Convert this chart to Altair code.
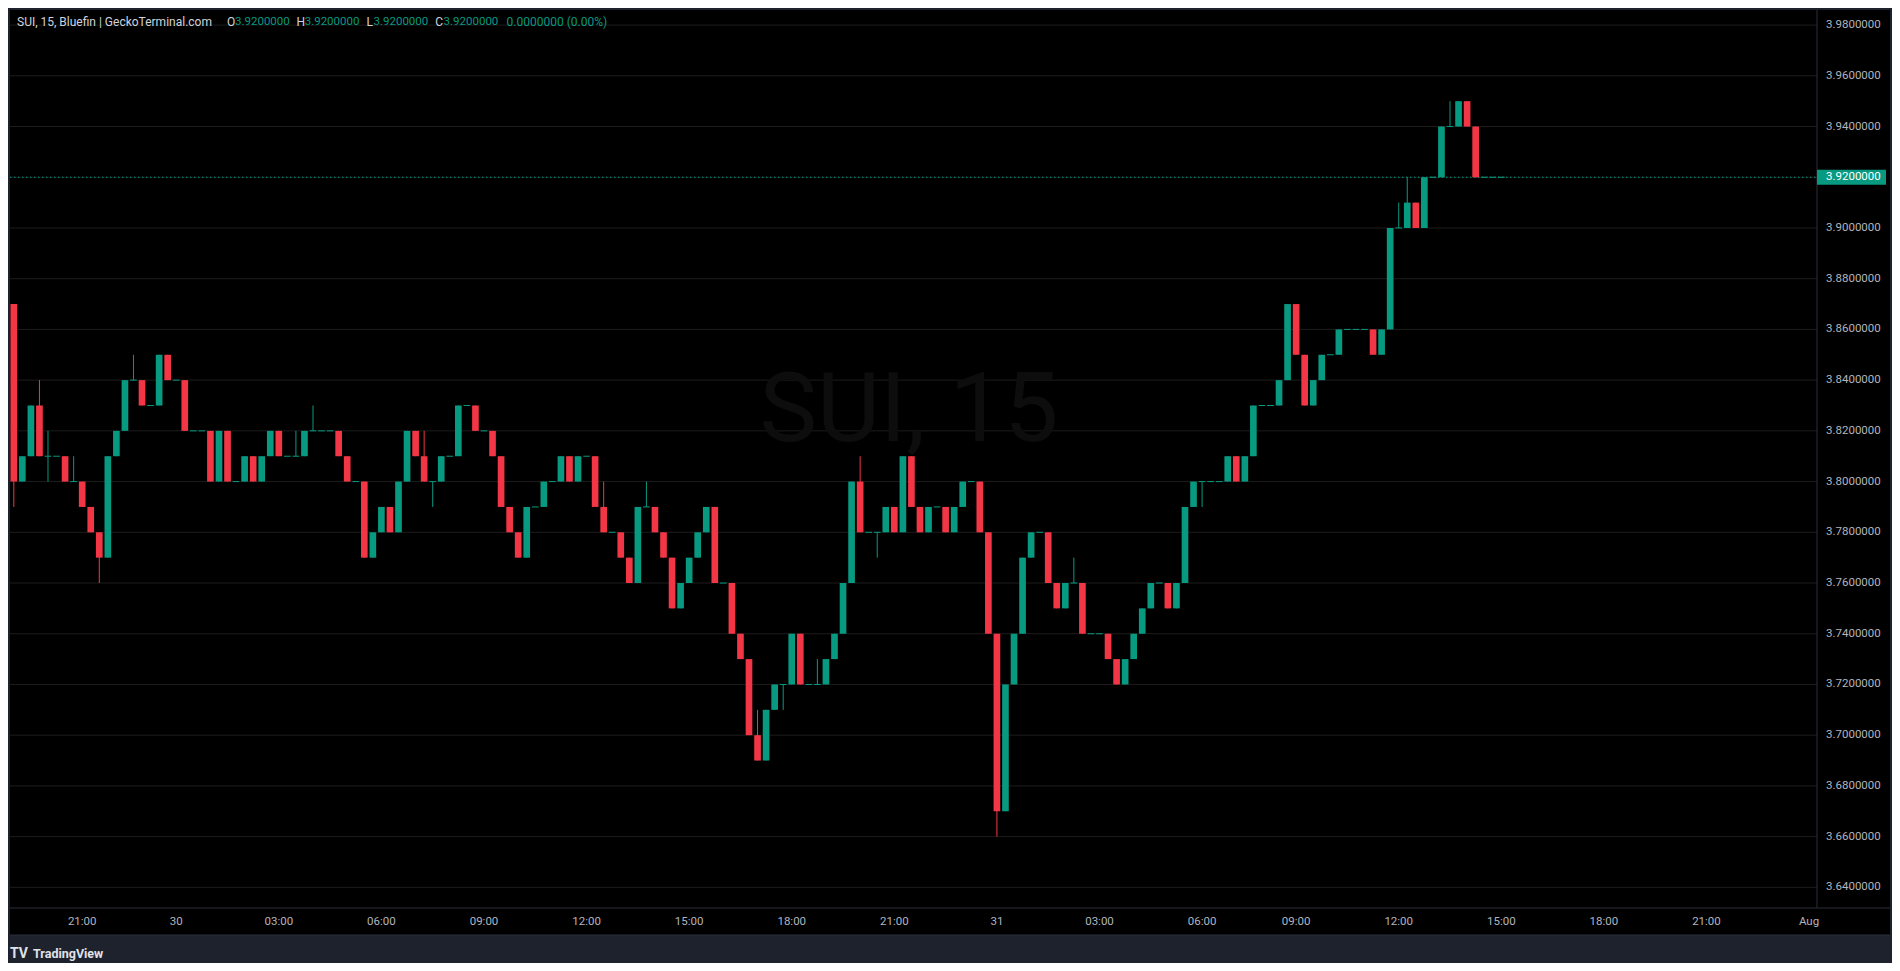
import altair as alt
import pandas as pd

# ---------------- data ----------------
opens = [
    3.87, 3.80, 3.81, 3.83, 3.81, 3.81, 3.81, 3.80, 3.80, 3.79,
    3.78, 3.77, 3.81, 3.82, 3.84, 3.84, 3.83, 3.83, 3.85, 3.84,
    3.84, 3.82, 3.82, 3.82, 3.80, 3.82, 3.80, 3.80, 3.81, 3.80,
    3.81, 3.82, 3.81, 3.81, 3.81, 3.82, 3.82, 3.82, 3.82, 3.81,
    3.80, 3.80, 3.77, 3.78, 3.79, 3.78, 3.80, 3.82, 3.81, 3.80,
    3.80, 3.81, 3.81, 3.83, 3.83, 3.82, 3.82, 3.81, 3.79, 3.78,
    3.77, 3.79, 3.79, 3.80, 3.80, 3.81, 3.80, 3.81, 3.81, 3.79,
    3.78, 3.78, 3.77, 3.76, 3.79, 3.79, 3.78, 3.77, 3.75, 3.76,
    3.77, 3.78, 3.79, 3.76, 3.76, 3.74, 3.73, 3.70, 3.69, 3.71,
    3.72, 3.72, 3.74, 3.72, 3.72, 3.72, 3.73, 3.74, 3.76, 3.80,
    3.78, 3.78, 3.78, 3.79, 3.78, 3.81, 3.79, 3.78, 3.79, 3.79,
    3.78, 3.79, 3.80, 3.80, 3.78, 3.74, 3.67, 3.72, 3.74, 3.77,
    3.78, 3.78, 3.76, 3.75, 3.76, 3.76, 3.74, 3.74, 3.74, 3.73,
    3.72, 3.73, 3.74, 3.75, 3.76, 3.76, 3.75, 3.76, 3.79, 3.80,
    3.80, 3.80, 3.80, 3.81, 3.80, 3.81, 3.83, 3.83, 3.83, 3.84,
    3.87, 3.85, 3.83, 3.84, 3.85, 3.85, 3.86, 3.86, 3.86, 3.86,
    3.85, 3.86, 3.90, 3.90, 3.91, 3.90, 3.92, 3.92, 3.94, 3.94,
    3.95, 3.94, 3.92, 3.92, 3.92,
]
highs = [
    3.87, 3.81, 3.83, 3.84, 3.82, 3.81, 3.81, 3.81, 3.80, 3.79,
    3.78, 3.81, 3.82, 3.84, 3.85, 3.84, 3.83, 3.85, 3.85, 3.84,
    3.84, 3.82, 3.82, 3.82, 3.82, 3.82, 3.80, 3.81, 3.81, 3.81,
    3.82, 3.82, 3.81, 3.82, 3.82, 3.83, 3.82, 3.82, 3.82, 3.81,
    3.80, 3.80, 3.78, 3.79, 3.79, 3.80, 3.82, 3.82, 3.82, 3.80,
    3.81, 3.81, 3.83, 3.83, 3.83, 3.82, 3.82, 3.81, 3.79, 3.78,
    3.79, 3.79, 3.80, 3.80, 3.81, 3.81, 3.81, 3.81, 3.81, 3.80,
    3.78, 3.78, 3.77, 3.79, 3.80, 3.79, 3.78, 3.77, 3.76, 3.77,
    3.78, 3.79, 3.79, 3.76, 3.76, 3.74, 3.73, 3.71, 3.71, 3.72,
    3.72, 3.74, 3.74, 3.72, 3.73, 3.73, 3.74, 3.76, 3.80, 3.81,
    3.78, 3.78, 3.79, 3.79, 3.81, 3.81, 3.79, 3.79, 3.79, 3.79,
    3.79, 3.80, 3.80, 3.80, 3.78, 3.74, 3.72, 3.74, 3.77, 3.78,
    3.78, 3.78, 3.76, 3.76, 3.77, 3.76, 3.74, 3.74, 3.74, 3.73,
    3.73, 3.74, 3.75, 3.76, 3.76, 3.76, 3.76, 3.79, 3.80, 3.80,
    3.80, 3.80, 3.81, 3.81, 3.81, 3.83, 3.83, 3.83, 3.84, 3.87,
    3.87, 3.85, 3.84, 3.85, 3.85, 3.86, 3.86, 3.86, 3.86, 3.86,
    3.86, 3.90, 3.91, 3.92, 3.91, 3.92, 3.92, 3.94, 3.95, 3.95,
    3.95, 3.94, 3.92, 3.92, 3.92,
]
lows = [
    3.79, 3.80, 3.81, 3.81, 3.80, 3.81, 3.80, 3.80, 3.79, 3.78,
    3.76, 3.77, 3.81, 3.82, 3.84, 3.83, 3.83, 3.83, 3.84, 3.84,
    3.82, 3.82, 3.82, 3.80, 3.80, 3.80, 3.80, 3.80, 3.80, 3.80,
    3.81, 3.81, 3.81, 3.81, 3.81, 3.82, 3.82, 3.82, 3.81, 3.80,
    3.80, 3.77, 3.77, 3.78, 3.78, 3.78, 3.80, 3.81, 3.80, 3.79,
    3.80, 3.81, 3.81, 3.83, 3.82, 3.82, 3.81, 3.79, 3.78, 3.77,
    3.77, 3.79, 3.79, 3.80, 3.80, 3.80, 3.80, 3.81, 3.79, 3.78,
    3.78, 3.77, 3.76, 3.76, 3.79, 3.78, 3.77, 3.75, 3.75, 3.76,
    3.77, 3.78, 3.76, 3.76, 3.74, 3.73, 3.70, 3.69, 3.69, 3.71,
    3.71, 3.72, 3.72, 3.72, 3.72, 3.72, 3.73, 3.74, 3.76, 3.78,
    3.78, 3.77, 3.78, 3.78, 3.78, 3.79, 3.78, 3.78, 3.79, 3.78,
    3.78, 3.79, 3.80, 3.78, 3.74, 3.66, 3.67, 3.72, 3.74, 3.77,
    3.78, 3.76, 3.75, 3.75, 3.76, 3.74, 3.74, 3.74, 3.73, 3.72,
    3.72, 3.73, 3.74, 3.75, 3.76, 3.75, 3.75, 3.76, 3.79, 3.79,
    3.80, 3.80, 3.80, 3.80, 3.80, 3.81, 3.83, 3.83, 3.83, 3.84,
    3.85, 3.83, 3.83, 3.84, 3.85, 3.85, 3.86, 3.86, 3.86, 3.85,
    3.85, 3.86, 3.90, 3.90, 3.90, 3.90, 3.92, 3.92, 3.94, 3.94,
    3.94, 3.92, 3.92, 3.92, 3.92,
]
closes = [
    3.80, 3.81, 3.83, 3.81, 3.81, 3.81, 3.80, 3.80, 3.79, 3.78,
    3.77, 3.81, 3.82, 3.84, 3.84, 3.83, 3.83, 3.85, 3.84, 3.84,
    3.82, 3.82, 3.82, 3.80, 3.82, 3.80, 3.80, 3.81, 3.80, 3.81,
    3.82, 3.81, 3.81, 3.81, 3.82, 3.82, 3.82, 3.82, 3.81, 3.80,
    3.80, 3.77, 3.78, 3.79, 3.78, 3.80, 3.82, 3.81, 3.80, 3.80,
    3.81, 3.81, 3.83, 3.83, 3.82, 3.82, 3.81, 3.79, 3.78, 3.77,
    3.79, 3.79, 3.80, 3.80, 3.81, 3.80, 3.81, 3.81, 3.79, 3.78,
    3.78, 3.77, 3.76, 3.79, 3.79, 3.78, 3.77, 3.75, 3.76, 3.77,
    3.78, 3.79, 3.76, 3.76, 3.74, 3.73, 3.70, 3.69, 3.71, 3.72,
    3.72, 3.74, 3.72, 3.72, 3.72, 3.73, 3.74, 3.76, 3.80, 3.78,
    3.78, 3.78, 3.79, 3.78, 3.81, 3.79, 3.78, 3.79, 3.79, 3.78,
    3.79, 3.80, 3.80, 3.78, 3.74, 3.67, 3.72, 3.74, 3.77, 3.78,
    3.78, 3.76, 3.75, 3.76, 3.76, 3.74, 3.74, 3.74, 3.73, 3.72,
    3.73, 3.74, 3.75, 3.76, 3.76, 3.75, 3.76, 3.79, 3.80, 3.80,
    3.80, 3.80, 3.81, 3.80, 3.81, 3.83, 3.83, 3.83, 3.84, 3.87,
    3.85, 3.83, 3.84, 3.85, 3.85, 3.86, 3.86, 3.86, 3.86, 3.85,
    3.86, 3.90, 3.90, 3.91, 3.90, 3.92, 3.92, 3.94, 3.94, 3.95,
    3.94, 3.92, 3.92, 3.92, 3.92,
]

tick_index = [8, 19, 31, 43, 55, 67, 79, 91, 103, 115, 127, 139, 150, 162, 174, 186, 198, 210]
tick_labels = ["21:00", "30", "03:00", "06:00", "09:00", "12:00", "15:00", "18:00", "21:00",
               "31", "03:00", "06:00", "09:00", "12:00", "15:00", "18:00", "21:00", "Aug"]
price_ticks = [3.64, 3.66, 3.68, 3.70, 3.72, 3.74, 3.76, 3.78, 3.80, 3.82,
               3.84, 3.86, 3.88, 3.90, 3.92, 3.94, 3.96, 3.98]
symbol_text = "SUI, 15, Bluefin | GeckoTerminal.com"
watermark_text = "SUI, 15"
brand_text = "TradingView"

# ---------------- style ----------------
UP = "#089981"
DOWN = "#f23645"
FRAME = "#1e222d"
SEP = "#2a2e39"
GRID = "#1c1c1c"
AXIS_TXT = "#b2b5be"
HEAD_TXT = "#d1d4dc"
FONT = "Roboto"

W, H = 1807, 898
xs = alt.Scale(domain=[-0.4445, 210.93], nice=False, zero=False)
ys = alt.Scale(domain=[3.631853, 3.985954], nice=False, zero=False)

df = pd.DataFrame({"i": list(range(len(opens))), "open": opens, "high": highs,
                   "low": lows, "close": closes})
df["dir"] = ["up" if c >= o else "down" for o, c in zip(opens, closes)]
color = alt.Color("dir:N", scale=alt.Scale(domain=["up", "down"], range=[UP, DOWN]), legend=None)

base = alt.Chart(df)

wicks = base.transform_filter("datum.high > datum.low").mark_rule(strokeWidth=1).encode(
    x=alt.X("i:Q", scale=xs, axis=None),
    y=alt.Y("low:Q", scale=ys, axis=None),
    y2="high:Q",
    color=color,
)
bodies = base.transform_filter("datum.open != datum.close").transform_calculate(
    x0="datum.i - 0.39", x1="datum.i + 0.39"
).mark_rect().encode(
    x=alt.X("x0:Q", scale=xs, axis=None), x2="x1:Q",
    y=alt.Y("open:Q", scale=ys, axis=None), y2="close:Q",
    color=color,
)
dojis = base.transform_filter("datum.open == datum.close").transform_calculate(
    x0="datum.i - 0.39", x1="datum.i + 0.39"
).mark_rule(strokeWidth=1).encode(
    x=alt.X("x0:Q", scale=xs, axis=None), x2="x1:Q",
    y=alt.Y("close:Q", scale=ys, axis=None),
    color=color,
)

pt = pd.DataFrame({"p": price_ticks})
grid = alt.Chart(pt).mark_rule(color=GRID, strokeWidth=1).encode(
    x=alt.value(0), x2=alt.value(W), y=alt.Y("p:Q", scale=ys, axis=None)
)
ylabels = alt.Chart(pt).transform_filter("abs(datum.p - 3.92) > 0.001").mark_text(
    align="left", baseline="middle", fontSize=11.5, font=FONT, color=AXIS_TXT
).encode(
    x=alt.value(W + 9), y=alt.Y("p:Q", scale=ys, axis=None), text=alt.Text("p:Q", format=".7f")
)

tk = pd.DataFrame({"i": tick_index, "lab": tick_labels})
xlabels = alt.Chart(tk).mark_text(
    align="center", baseline="middle", fontSize=11.5, font=FONT, color=AXIS_TXT
).encode(x=alt.X("i:Q", scale=xs, axis=None), y=alt.value(H + 14), text="lab:N")

last = pd.DataFrame({"p": [closes[-1]], "t": [f"{closes[-1]:.7f}"]})
price_line = alt.Chart(last).mark_rule(color=UP, strokeWidth=1, strokeDash=[1.5, 2.5]).encode(
    x=alt.value(0), x2=alt.value(W), y=alt.Y("p:Q", scale=ys, axis=None)
)
price_box = alt.Chart(last).mark_rule(color=UP, strokeWidth=15, strokeCap="butt").encode(
    x=alt.value(W), x2=alt.value(W + 69), y=alt.Y("p:Q", scale=ys, axis=None)
)
price_txt = alt.Chart(last).mark_text(
    align="left", baseline="middle", fontSize=11.5, font=FONT, color="#ffffff"
).encode(x=alt.value(W + 9), y=alt.Y("p:Q", scale=ys, axis=None), text="t:N")


def text_layer(text, x, y, color, size=12, align="left", weight="normal"):
    return alt.Chart(pd.DataFrame({"t": [text]})).mark_text(
        align=align, baseline="middle", fontSize=size, font=FONT, color=color, fontWeight=weight
    ).encode(x=alt.value(x), y=alt.value(y), text="t:N")


def box(x, x2, y, y2, color):
    return alt.Chart(pd.DataFrame({"k": [0]})).mark_rect(color=color).encode(
        x=alt.value(x), x2=alt.value(x2), y=alt.value(y), y2=alt.value(y2)
    )


def line(x, x2, y, y2, color):
    return alt.Chart(pd.DataFrame({"k": [0]})).mark_rule(color=color, strokeWidth=1).encode(
        x=alt.value(x), x2=alt.value(x2), y=alt.value(y), y2=alt.value(y2)
    )


watermark = text_layer(watermark_text, 899, 402, "#0d0d0d", size=97, align="center")

chg = closes[-1] - closes[-2]
chg_pct = chg / closes[-2] * 100
hy = 12
header = [
    text_layer(symbol_text, 7, hy, HEAD_TXT, size=12),
    text_layer("O", 217, hy, HEAD_TXT, size=12),
    text_layer(f"{opens[-1]:.7f}", 225, hy, UP, size=11.5),
    text_layer("H", 286.5, hy, HEAD_TXT, size=12),
    text_layer(f"{highs[-1]:.7f}", 294.7, hy, UP, size=11.5),
    text_layer("L", 356.5, hy, HEAD_TXT, size=12),
    text_layer(f"{lows[-1]:.7f}", 363.5, hy, UP, size=11.5),
    text_layer("C", 425.3, hy, HEAD_TXT, size=12),
    text_layer(f"{closes[-1]:.7f}", 433.6, hy, UP, size=11.5),
    text_layer(f"{chg:.7f} ({chg_pct:.2f}%)", 496.6, hy, UP, size=12),
]

frame = [
    box(-2, 0, -2, 953, FRAME),
    box(-2, 1882, -2, 0, FRAME),
    box(1880, 1882, -2, 953, FRAME),
    box(-2, 1882, 925, 953, FRAME),
    line(W, W, 0, H, SEP),
    line(0, 1880, H, H, SEP),
    line(0, 1880, 925, 925, SEP),
]

brand = [
    text_layer("TV", 0, 944, "#e0e3eb", size=14, weight="bold"),
    text_layer(brand_text, 23, 944, "#e0e3eb", size=12.5, weight="bold"),
]

chart = alt.layer(
    grid, watermark, price_line, wicks, bodies, dojis,
    *frame, ylabels, xlabels, price_box, price_txt, *header, *brand
).properties(
    width=W, height=H,
    padding={"left": 2, "top": 2, "right": 75, "bottom": 55},
    autosize=alt.AutoSizeParams(type="none"),
    background="#000000",
).configure_view(stroke=None)

chart.save("out.html", embed_options={"renderer": "svg", "actions": False})
